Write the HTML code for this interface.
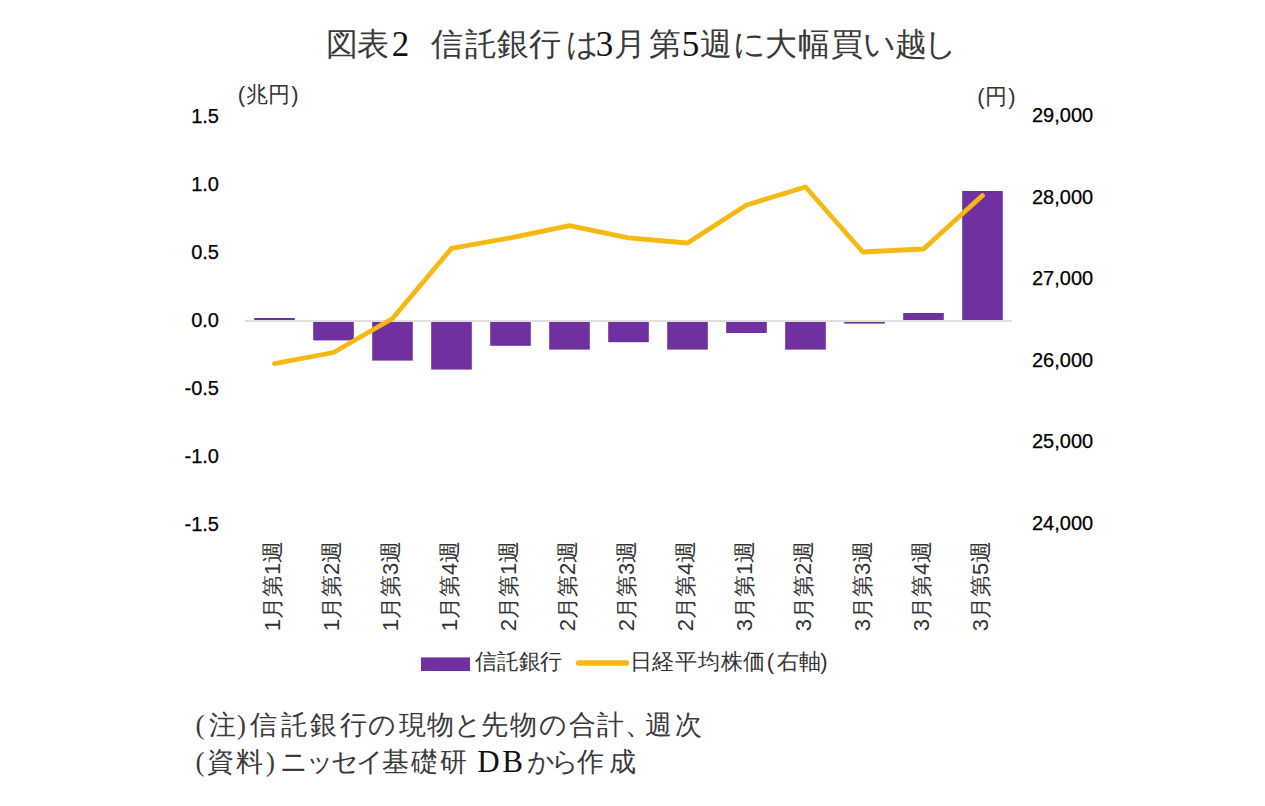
<!DOCTYPE html>
<html lang="ja"><head><meta charset="utf-8">
<style>
html,body{margin:0;padding:0;background:#fff;}
body{width:1265px;height:806px;position:relative;overflow:hidden;font-family:"Liberation Sans",sans-serif;color:#000;}
svg{position:absolute;left:0;top:0;}
.title{position:absolute;white-space:nowrap;font-family:"Liberation Serif",serif;font-size:32px;line-height:1;}
.gt{position:absolute;width:40px;text-align:center;white-space:nowrap;font-family:"Liberation Serif",serif;font-size:32px;line-height:34px;color:#3a3a3a;}
.gnl{position:absolute;width:40px;text-align:center;white-space:nowrap;font-family:"Liberation Serif",serif;font-size:31px;line-height:30px;color:#111;}
.gtd{position:absolute;width:40px;text-align:center;white-space:nowrap;font-family:"Liberation Serif",serif;font-size:35px;line-height:34px;color:#111;margin-top:1px;}
.gn{position:absolute;width:40px;text-align:center;white-space:nowrap;font-family:"Liberation Serif",serif;font-size:27px;line-height:30px;color:#3a3a3a;}
.g22{position:absolute;width:40px;text-align:center;white-space:nowrap;font-size:22px;line-height:24px;color:#333;}
.ax{position:absolute;white-space:nowrap;font-size:20px;line-height:24px;color:#000;-webkit-text-stroke:0.25px #000;}
.cat{position:absolute;white-space:nowrap;font-size:22px;line-height:24px;width:120px;text-align:center;transform:rotate(-90deg);color:#333;}
</style></head><body>
<svg width="1265" height="806" viewBox="0 0 1265 806">
<line x1="245" y1="321" x2="1012" y2="321" stroke="#d4d4d4" stroke-width="1.6"/>
<rect x="254.2" y="318" width="40.6" height="2.0" fill="#7030a0"/>
<rect x="313.2" y="322" width="40.6" height="18.4" fill="#7030a0"/>
<rect x="372.2" y="322" width="40.6" height="38.6" fill="#7030a0"/>
<rect x="431.2" y="322" width="40.6" height="47.6" fill="#7030a0"/>
<rect x="490.2" y="322" width="40.6" height="23.8" fill="#7030a0"/>
<rect x="549.2" y="322" width="40.6" height="27.6" fill="#7030a0"/>
<rect x="608.2" y="322" width="40.6" height="20.2" fill="#7030a0"/>
<rect x="667.2" y="322" width="40.6" height="27.6" fill="#7030a0"/>
<rect x="726.2" y="322" width="40.6" height="11.0" fill="#7030a0"/>
<rect x="785.2" y="322" width="40.6" height="27.6" fill="#7030a0"/>
<rect x="844.2" y="322" width="40.6" height="1.6" fill="#7030a0"/>
<rect x="903.2" y="313" width="40.6" height="7.0" fill="#7030a0"/>
<rect x="962.2" y="191" width="40.6" height="129.0" fill="#7030a0"/>
<polyline points="274.5,363.6 333.5,352.5 392.5,318.5 451.5,248.4 510.5,237.8 569.5,225.6 628.5,237.8 687.5,243 746.5,205 805.5,187 862.8,252 923.5,249 982.5,195.5" fill="none" stroke="#f6b912" stroke-width="4.8" stroke-linejoin="round" stroke-linecap="round"/>
<rect x="421" y="657.4" width="49" height="13.6" fill="#7030a0"/>
<line x1="578.5" y1="663" x2="626.5" y2="663" stroke="#f6b912" stroke-width="5.5" stroke-linecap="round"/>
</svg>
<span class="g22" style="left:221.3px;top:83px">(</span>
<span class="g22" style="left:237.0px;top:83px">兆</span>
<span class="g22" style="left:259.0px;top:83px">円</span>
<span class="g22" style="left:275.0px;top:83px">)</span>
<span class="g22" style="left:960.8px;top:85px">(</span>
<span class="g22" style="left:976.0px;top:85px">円</span>
<span class="g22" style="left:992.0px;top:85px">)</span>
<span class="g22" style="left:465.5px;top:650px">信</span>
<span class="g22" style="left:488.0px;top:650px">託</span>
<span class="g22" style="left:509.5px;top:650px">銀</span>
<span class="g22" style="left:531.0px;top:650px">行</span>
<span class="g22" style="left:620.5px;top:650px">日</span>
<span class="g22" style="left:643.0px;top:650px">経</span>
<span class="g22" style="left:666.0px;top:650px">平</span>
<span class="g22" style="left:688.5px;top:650px">均</span>
<span class="g22" style="left:711.5px;top:650px">株</span>
<span class="g22" style="left:734.0px;top:650px">価</span>
<span class="g22" style="left:750.5px;top:650px">(</span>
<span class="g22" style="left:768.0px;top:650px">右</span>
<span class="g22" style="left:790.0px;top:650px">軸</span>
<span class="g22" style="left:804.0px;top:650px">)</span>
<span class="gn" style="left:180.0px;top:710px">(</span>
<span class="gn" style="left:202.0px;top:710px">注</span>
<span class="gn" style="left:221.5px;top:710px">)</span>
<span class="gn" style="left:243.5px;top:710px">信</span>
<span class="gn" style="left:274.5px;top:710px">託</span>
<span class="gn" style="left:303.5px;top:710px">銀</span>
<span class="gn" style="left:333.0px;top:710px">行</span>
<span class="gn" style="left:362.0px;top:710px">の</span>
<span class="gn" style="left:392.0px;top:710px">現</span>
<span class="gn" style="left:420.0px;top:710px">物</span>
<span class="gn" style="left:448.0px;top:710px">と</span>
<span class="gn" style="left:474.5px;top:710px">先</span>
<span class="gn" style="left:503.5px;top:710px">物</span>
<span class="gn" style="left:533.0px;top:710px">の</span>
<span class="gn" style="left:562.5px;top:710px">合</span>
<span class="gn" style="left:590.5px;top:710px">計</span>
<span class="gn" style="left:618.5px;top:710px">、</span>
<span class="gn" style="left:638.5px;top:710px">週</span>
<span class="gn" style="left:668.0px;top:710px">次</span>
<span class="gt" style="left:322.0px;top:27px">図</span>
<span class="gt" style="left:352.5px;top:27px">表</span>
<span class="gtd" style="left:380.5px;top:27px">2</span>
<span class="gt" style="left:427.0px;top:27px">信</span>
<span class="gt" style="left:461.0px;top:27px">託</span>
<span class="gt" style="left:492.5px;top:27px">銀</span>
<span class="gt" style="left:525.0px;top:27px">行</span>
<span class="gt" style="left:562.0px;top:27px">は</span>
<span class="gtd" style="left:584.5px;top:27px">3</span>
<span class="gt" style="left:609.5px;top:27px">月</span>
<span class="gt" style="left:645.0px;top:27px">第</span>
<span class="gtd" style="left:670.5px;top:27px">5</span>
<span class="gt" style="left:696.0px;top:27px">週</span>
<span class="gt" style="left:729.0px;top:27px">に</span>
<span class="gt" style="left:760.5px;top:27px">大</span>
<span class="gt" style="left:793.5px;top:27px">幅</span>
<span class="gt" style="left:826.5px;top:27px">買</span>
<span class="gt" style="left:859.0px;top:27px">い</span>
<span class="gt" style="left:890.5px;top:27px">越</span>
<span class="gt" style="left:920.5px;top:27px">し</span>
<span class="gn" style="left:180.0px;top:747px">(</span>
<span class="gn" style="left:200.5px;top:747px">資</span>
<span class="gn" style="left:229.5px;top:747px">料</span>
<span class="gn" style="left:250.5px;top:747px">)</span>
<span class="gn" style="left:274.0px;top:747px">ニ</span>
<span class="gn" style="left:300.0px;top:747px">ッ</span>
<span class="gn" style="left:324.5px;top:747px">セ</span>
<span class="gn" style="left:349.5px;top:747px">イ</span>
<span class="gn" style="left:375.0px;top:747px">基</span>
<span class="gn" style="left:404.5px;top:747px">礎</span>
<span class="gn" style="left:433.0px;top:747px">研</span>
<span class="gnl" style="left:468.5px;top:747px">D</span>
<span class="gnl" style="left:492.5px;top:747px">B</span>
<span class="gn" style="left:521.0px;top:747px">か</span>
<span class="gn" style="left:545.0px;top:747px">ら</span>
<span class="gn" style="left:570.0px;top:747px">作</span>
<span class="gn" style="left:602.0px;top:747px">成</span>
<div class="ax" style="right:1046px;top:103.5px;text-align:right">1.5</div>
<div class="ax" style="right:1046px;top:171.5px;text-align:right">1.0</div>
<div class="ax" style="right:1046px;top:239.5px;text-align:right">0.5</div>
<div class="ax" style="right:1046px;top:307.5px;text-align:right">0.0</div>
<div class="ax" style="right:1046px;top:375.5px;text-align:right">-0.5</div>
<div class="ax" style="right:1046px;top:443.5px;text-align:right">-1.0</div>
<div class="ax" style="right:1046px;top:511.5px;text-align:right">-1.5</div>
<div class="ax" style="left:1032px;top:103.0px">29,000</div>
<div class="ax" style="left:1032px;top:184.6px">28,000</div>
<div class="ax" style="left:1032px;top:266.2px">27,000</div>
<div class="ax" style="left:1032px;top:347.8px">26,000</div>
<div class="ax" style="left:1032px;top:429.4px">25,000</div>
<div class="ax" style="left:1032px;top:511.0px">24,000</div>
<div class="cat" style="left:213.0px;top:574px">1月第1週</div>
<div class="cat" style="left:272.0px;top:574px">1月第2週</div>
<div class="cat" style="left:331.0px;top:574px">1月第3週</div>
<div class="cat" style="left:390.0px;top:574px">1月第4週</div>
<div class="cat" style="left:449.0px;top:574px">2月第1週</div>
<div class="cat" style="left:508.0px;top:574px">2月第2週</div>
<div class="cat" style="left:567.0px;top:574px">2月第3週</div>
<div class="cat" style="left:626.0px;top:574px">2月第4週</div>
<div class="cat" style="left:685.0px;top:574px">3月第1週</div>
<div class="cat" style="left:744.0px;top:574px">3月第2週</div>
<div class="cat" style="left:803.0px;top:574px">3月第3週</div>
<div class="cat" style="left:862.0px;top:574px">3月第4週</div>
<div class="cat" style="left:921.0px;top:574px">3月第5週</div>
</body></html>
